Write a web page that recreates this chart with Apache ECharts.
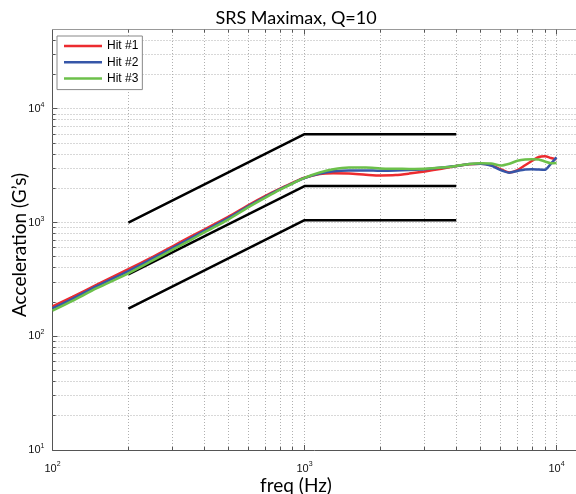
<!DOCTYPE html>
<html>
<head>
<meta charset="utf-8">
<script src="https://cdn.jsdelivr.net/npm/echarts@6/dist/echarts.min.js"></script>
<style>html,body{margin:0;padding:0;background:#fff;}#c{width:576px;height:494px;}</style>
</head>
<body>
<div id="c"></div>
<script>
// ---- data ----
const freq = [100, 120, 150, 200, 250, 300, 350, 400, 500, 600, 700, 800, 900, 1000, 1150, 1300, 1500, 1750, 2000, 2300, 2600, 3000, 3500, 4000, 4500, 5000, 5500, 6000, 6500, 7000, 7500, 8000, 8500, 9000, 9500, 10000];
const hit1 = [183, 222, 285, 390, 500, 620, 745, 870, 1130, 1430, 1720, 1990, 2250, 2480, 2680, 2720, 2700, 2640, 2600, 2620, 2700, 2820, 2980, 3150, 3260, 3300, 3200, 2950, 2760, 2900, 3200, 3500, 3780, 3830, 3700, 3600];
const hit2 = [176, 214, 276, 375, 485, 600, 720, 845, 1100, 1400, 1690, 1970, 2230, 2470, 2700, 2830, 2880, 2880, 2860, 2870, 2900, 2950, 3050, 3150, 3280, 3300, 3170, 2900, 2750, 2850, 2930, 2950, 2930, 2920, 3300, 3750];
const hit3 = [168, 205, 265, 358, 465, 578, 695, 820, 1070, 1370, 1660, 1950, 2220, 2480, 2760, 2950, 3050, 3050, 3000, 2980, 2970, 2980, 3050, 3150, 3280, 3330, 3320, 3180, 3300, 3500, 3600, 3620, 3600, 3450, 3330, 3350];
const hitNames = ['Hit #1', 'Hit #2', 'Hit #3'];
const specFreq = [200, 1000, 4000];
const specLow = [175, 1050, 1050];
const specMid = [350, 2100, 2100];
const specHigh = [1000, 6000, 6000];
const xGrid = [200, 300, 400, 500, 600, 700, 800, 900, 1000, 2000, 3000, 4000, 5000, 6000, 7000, 8000, 9000, 10000];
const yGrid = [20, 30, 40, 50, 60, 70, 80, 90, 100, 200, 300, 400, 500, 600, 700, 800, 900, 1000, 2000, 3000, 4000, 5000, 6000, 7000, 8000, 9000, 10000, 20000, 30000, 40000];
const X_MIN = 100, X_MAX = 12000, Y_MIN = 10, Y_MAX = 50000;
const titleText = 'SRS Maximax, Q=10';
const xTitle = 'freq (Hz)';
const yTitle = 'Acceleration (G\u2019s)';

// ---- chart ----
const chart = echarts.init(document.getElementById('c'), null, {renderer: 'canvas'});
const isPow10 = v => { const e = Math.log10(v); return Math.abs(e - Math.round(e)) < 1e-6; };
const snap = p => Math.round(p - 0.5) + 0.5;
const zip = (xs, ys) => xs.map((x, i) => [x, ys[i]]);
const labelFmt = v => { const e = Math.log10(v); const r = Math.round(e); return Math.abs(e - r) < 1e-6 ? '{b|10}{s|' + r + '}' : ''; };
const rich = {
  b: {fontSize: 11, fontFamily: 'Liberation Sans', color: '#111'},
  s: {fontSize: 7, fontFamily: 'Liberation Sans', color: '#111', padding: [0, 0, 8, 0]}
};
const colors = ['#ec2b2f', '#3656a8', '#6cc04a'];

const series = [
  {
    type: 'custom', silent: true, z: 1, clip: false,
    data: xGrid.map(v => [v, Y_MIN]),
    renderItem: function (params, api) {
      const v = api.value(0);
      const b = api.coord([v, Y_MIN]);
      const t = api.coord([v, Y_MAX]);
      const x = snap(b[0]);
      const tl = isPow10(v) ? 5 : 3;
      return {type: 'group', children: [
        {type: 'line', shape: {x1: x, y1: b[1], x2: x, y2: t[1]}, style: {stroke: '#b0b0b0', lineWidth: 1, lineDash: [1, 2]}},
        {type: 'line', shape: {x1: x, y1: b[1], x2: x, y2: b[1] - tl}, style: {stroke: '#555', lineWidth: 1}},
        {type: 'line', shape: {x1: x, y1: t[1], x2: x, y2: t[1] + tl}, style: {stroke: '#555', lineWidth: 1}}
      ]};
    }
  },
  {
    type: 'custom', silent: true, z: 1, clip: false,
    data: yGrid.map(v => [X_MIN, v]),
    renderItem: function (params, api) {
      const v = api.value(1);
      const l = api.coord([X_MIN, v]);
      const r = api.coord([X_MAX, v]);
      const y = snap(l[1]);
      const tl = isPow10(v) ? 5 : 3;
      return {type: 'group', children: [
        {type: 'line', shape: {x1: l[0], y1: y, x2: r[0], y2: y}, style: {stroke: '#b0b0b0', lineWidth: 1, lineDash: [1, 2]}},
        {type: 'line', shape: {x1: l[0], y1: y, x2: l[0] + tl, y2: y}, style: {stroke: '#555', lineWidth: 1}}
      ]};
    }
  }
];
[specLow, specMid, specHigh].forEach(s => series.push({
  type: 'line', data: zip(specFreq, s), symbol: 'none', silent: true, z: 2,
  lineStyle: {color: '#000', width: 2.5}
}));
[hit1, hit2, hit3].forEach((h, i) => series.push({
  name: hitNames[i], type: 'line', data: zip(freq, h), symbol: 'none', smooth: 0.25, z: 3,
  color: colors[i], lineStyle: {color: colors[i], width: 2.5}
}));

const logAxisBase = {
  type: 'log', logBase: 10,
  axisTick: {show: false}, splitLine: {show: false}, minorTick: {show: false}
};

chart.setOption({
  animation: false,
  backgroundColor: '#fff',
  grid: {left: 52.5, top: 29.5, width: 524, height: 420.5, show: false, outerBoundsMode: 'none', containLabel: false},
  xAxis: [
    Object.assign({}, logAxisBase, {
      min: X_MIN, max: X_MAX, position: 'bottom',
      axisLine: {show: true, onZero: false, lineStyle: {color: '#555', width: 1}},
      axisLabel: {formatter: labelFmt, rich: rich, margin: 11, showMaxLabel: false}
    }),
    Object.assign({}, logAxisBase, {
      min: X_MIN, max: X_MAX, position: 'top',
      axisLine: {show: true, onZero: false, lineStyle: {color: '#999', width: 1}},
      axisLabel: {show: false}
    })
  ],
  yAxis: Object.assign({}, logAxisBase, {
    min: Y_MIN, max: Y_MAX,
    axisLine: {show: true, onZero: false, lineStyle: {color: '#555', width: 1}},
    axisLabel: {formatter: labelFmt, rich: rich, margin: 8, showMaxLabel: false}
  }),
  legend: {
    data: hitNames, orient: 'vertical', left: 57, top: 36,
    icon: 'rect', itemWidth: 38, itemHeight: 2.5, itemGap: 2.3,
    padding: [3, 4, 4, 7], borderColor: '#888', borderWidth: 1, backgroundColor: '#fff',
    textStyle: {fontSize: 12, fontFamily: 'Liberation Sans', color: '#000', lineHeight: 14}
  },
  graphic: [
    {type: 'text', x: 296, y: 18, style: {text: titleText, font: '18px Lato', fill: '#000', textAlign: 'center', textVerticalAlign: 'middle'}},
    {type: 'text', x: 296, y: 486, style: {text: xTitle, font: '19px Lato', fill: '#000', textAlign: 'center', textVerticalAlign: 'middle'}},
    {type: 'text', x: 20, y: 245, rotation: Math.PI / 2, style: {text: yTitle, font: '19px Lato', fill: '#000', textAlign: 'center', textVerticalAlign: 'middle'}}
  ],
  series: series
});
</script>
</body>
</html>
